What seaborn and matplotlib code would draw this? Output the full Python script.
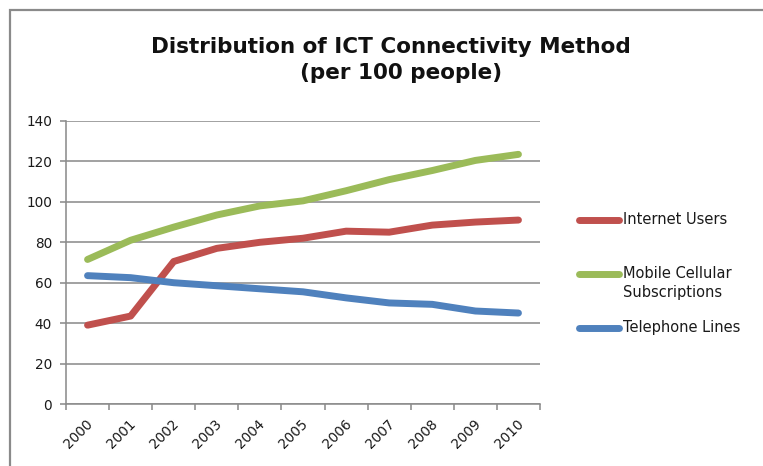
import matplotlib
matplotlib.use("Agg")
import matplotlib.pyplot as plt
import matplotlib.transforms as mtrans
from matplotlib.lines import Line2D
from matplotlib.patches import Rectangle
from matplotlib.ticker import FixedLocator
import seaborn as sns
import pandas as pd

years = [2000, 2001, 2002, 2003, 2004, 2005, 2006, 2007, 2008, 2009, 2010]
internet_users = [39, 43.5, 70.5, 77, 80, 82, 85.5, 85, 88.5, 90, 91]
mobile_subscriptions = [71.5, 81, 87.5, 93.5, 98, 100.5, 105.5, 111, 115.5, 120.5, 123.5]
telephone_lines = [63.5, 62.5, 60, 58.5, 57, 55.5, 52.5, 50, 49.3, 46, 45]

series_names = ["Internet Users", "Mobile Cellular Subscriptions", "Telephone Lines"]
legend_labels = ["Internet Users", "Mobile Cellular\nSubscriptions", "Telephone Lines"]
colors = ["#C0504D", "#9BBB59", "#4F81BD"]
y_ticks = [0, 20, 40, 60, 80, 100, 120, 140]

df = pd.DataFrame({
    "Year": years * 3,
    "Value": internet_users + mobile_subscriptions + telephone_lines,
    "Series": [series_names[0]] * len(years)
              + [series_names[1]] * len(years)
              + [series_names[2]] * len(years),
})

sns.set_style("white")
plt.rcParams["font.family"] = ["DejaVu Sans"]

W, H = 763, 466
fig = plt.figure(figsize=(W / 100, H / 100), dpi=100)
ax = fig.add_axes([66 / W, 1 - 404 / H, (540 - 66) / W, (404 - 121) / H])

grid_c = "#8C8C8C"
txt_c = "#1A1A1A"
line_w = 5.0
sns.lineplot(data=df, x="Year", y="Value", hue="Series", palette=colors,
             hue_order=series_names, linewidth=line_w, ax=ax, legend=False,
             solid_capstyle="round", solid_joinstyle="round", sort=False)

ax.set_xlim(years[0] - 0.5, years[-1] + 0.5)
ax.set_ylim(0, 140)
ax.set_yticks(y_ticks)
ax.set_yticklabels([str(t) for t in y_ticks])
ax.yaxis.grid(True, color=grid_c, linewidth=1.15)
ax.set_axisbelow(True)
ax.set_xlabel("")
ax.set_ylabel("")

# category boundaries carry tick marks, labels sit at category centres
ax.set_xticks(years)
ax.set_xticklabels([str(y) for y in years], rotation=45, ha="right",
                   va="center", rotation_mode="anchor")
ax.xaxis.set_minor_locator(FixedLocator([y - 0.5 for y in years] + [years[-1] + 0.5]))
ax.tick_params(axis="x", which="major", length=0, pad=12.5, labelsize=9.8,
               labelcolor=txt_c)
ax.tick_params(axis="x", which="minor", length=4.5, width=1.15, color=grid_c,
               direction="out", bottom=True)
ax.tick_params(axis="y", length=4.5, width=1.15, color=grid_c, direction="out",
               left=True, pad=5.5, labelsize=9.8, labelcolor=txt_c)
shift = mtrans.ScaledTranslation(3 / 100, 0, fig.dpi_scale_trans)
for lbl in ax.get_xticklabels():
    lbl.set_transform(lbl.get_transform() + shift)

for side in ["top", "right"]:
    ax.spines[side].set_visible(False)
for side in ["left", "bottom"]:
    ax.spines[side].set_color(grid_c)
    ax.spines[side].set_linewidth(1.15)

# title
fig.text(391 / W, 1 - 47 / H, "Distribution of ICT Connectivity Method",
         ha="center", va="center", fontsize=15.5, fontweight="bold", color="#111111")
fig.text(401 / W, 1 - 73 / H, "(per 100 people)",
         ha="center", va="center", fontsize=15.5, fontweight="bold", color="#111111")

# legend on the right
legend_y = [220, 274, 328]
for label, color, ly in zip(legend_labels, colors, legend_y):
    fig.add_artist(Line2D([579 / W, 619 / W], [1 - ly / H, 1 - ly / H],
                          color=color, linewidth=line_w, solid_capstyle="round",
                          transform=fig.transFigure))
    fig.text(623 / W, 1 - (ly - 8) / H, label, ha="left", va="top",
             fontsize=10.5, color=txt_c, linespacing=1.3)

# chart frame
fig.add_artist(Rectangle((9.5 / W, -0.1), 1.2, 1.1 - 10 / H,
                         transform=fig.transFigure, fill=False,
                         edgecolor="#8A8A8A", linewidth=1.6))

fig.savefig("out.png", dpi=100)
